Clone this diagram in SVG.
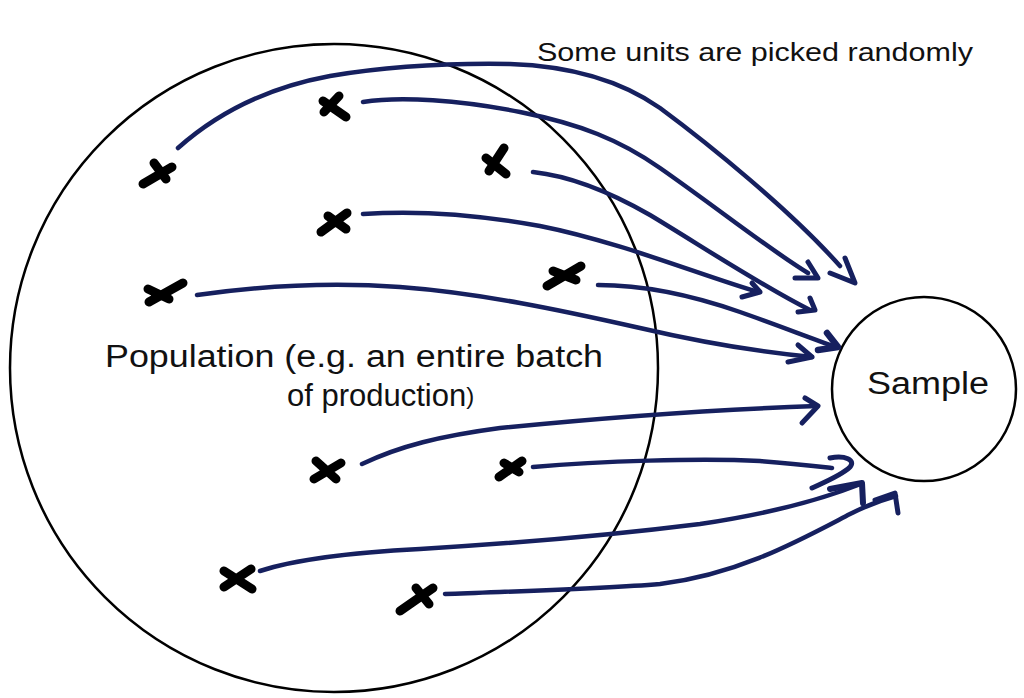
<svg xmlns="http://www.w3.org/2000/svg" width="1024" height="698" viewBox="0 0 1024 698">
<style>
.bg{fill:#ffffff}
.ring{fill:none;stroke:#000;stroke-width:2.5}
.txt{font-family:"Liberation Sans","Helvetica",Arial,sans-serif;fill:#111}
.x{fill:none;stroke:#000;stroke-width:9;stroke-linecap:round;stroke-linejoin:round}
.arr{fill:none;stroke:#16205f;stroke-width:4.5;stroke-linecap:round;stroke-linejoin:round}
.head{fill:none;stroke:#16205f;stroke-width:5;stroke-linecap:round;stroke-linejoin:round}
</style>
<rect class="bg" x="0" y="0" width="1024" height="698"/>

<g id="population">
  <circle class="ring" cx="334" cy="368" r="324"/>
  <text class="txt" x="105" y="367" font-size="31" textLength="498" lengthAdjust="spacingAndGlyphs">Population (e.g. an entire batch</text>
  <text class="txt" x="287" y="406" font-size="31">of production<tspan font-size="24" dy="-2">)</tspan></text>
</g>

<g id="sample">
  <circle class="ring" cx="924" cy="389" r="92"/>
  <text class="txt" x="867" y="394" font-size="31" textLength="122" lengthAdjust="spacingAndGlyphs">Sample</text>
</g>

<g id="caption">
  <text class="txt" x="537" y="61" font-size="26" textLength="436" lengthAdjust="spacingAndGlyphs">Some units are picked randomly</text>
</g>

<g id="unit1"><path class="x" d="M143,184 L172,167 M154,163 L166,179"/></g>
<g id="unit2"><path class="x" d="M323,101 L346,117 M339,96 L324,112"/></g>
<g id="unit3"><path class="x" d="M504,148 L489,171 M486,158 L506,174"/></g>
<g id="unit4"><path class="x" d="M321,232 L347,213 M328,216 L346,229"/></g>
<g id="unit5"><path class="x" d="M149,302 L183,283 M148,289 L169,299"/></g>
<g id="unit6"><path class="x" d="M547,286 L581,266 M553,271 L576,280"/></g>
<g id="unit7"><path class="x" d="M314,479 L341,463 M316,461 L336,479"/></g>
<g id="unit8"><path class="x" d="M499,477 L522,461 M504,463 L519,472"/></g>
<g id="unit9"><path class="x" d="M224,571 L252,589 M224,587 L251,569"/></g>
<g id="unit10"><path class="x" d="M400,611 L433,588 M416,588 L429,604"/></g>

<g id="connectors">
  <path class="arr" d="M178,148 C215,115 265,88 330,76 C390,66 450,63 510,64 C570,66 620,80 660,108 C710,145 790,210 840,266"/>
  <path class="head" d="M830,273 L855,283 L845,258"/>

  <path class="arr" d="M363,102 C400,96 460,100 520,112 C580,124 620,140 660,168 C720,210 770,250 808,273"/>
  <path class="head" d="M795,278 L818,278 L808,262"/>

  <path class="arr" d="M533,172 C570,176 610,192 650,215 C700,245 760,285 810,310"/>
  <path class="head" d="M798,312 L815,310 L810,298"/>

  <path class="arr" d="M363,214 C420,210 480,215 540,226 C620,242 700,275 758,292"/>
  <path class="head" d="M742,297 L760,292 L752,283"/>

  <path class="arr" d="M598,285 C650,285 700,298 740,312 C780,326 810,338 836,347"/>
  <path class="head" d="M818,350 L838,347 L827,333" style="stroke-width:6.5"/>

  <path class="arr" d="M197,295 C260,286 330,282 400,287 C480,293 560,310 640,328 C700,342 760,352 812,357"/>
  <path class="head" d="M788,362 L812,357 L798,345"/>

  <path class="arr" d="M362,464 C400,446 440,436 500,428 C580,420 700,410 817,406"/>
  <path class="head" d="M805,398 L818,406 L802,423"/>

  <path class="arr" d="M533,467 C600,461 700,458 760,461 C790,463 815,466 832,468"/>
  <path class="head" d="M830,458 C845,455 856,460 850,467 C842,475 825,482 812,488"/>

  <path class="arr" d="M260,571 C300,558 360,552 420,549 C520,543 620,534 700,524 C780,512 830,496 858,485"/>
  <path class="head" d="M830,489 L862,483 L863,503" style="stroke-width:6"/>

  <path class="arr" d="M445,594 C520,591 600,589 660,584 C740,574 800,540 850,514 C870,504 885,499 896,496"/>
  <path class="head" d="M875,500 L895,493 L898,513"/>
</g>
</svg>
